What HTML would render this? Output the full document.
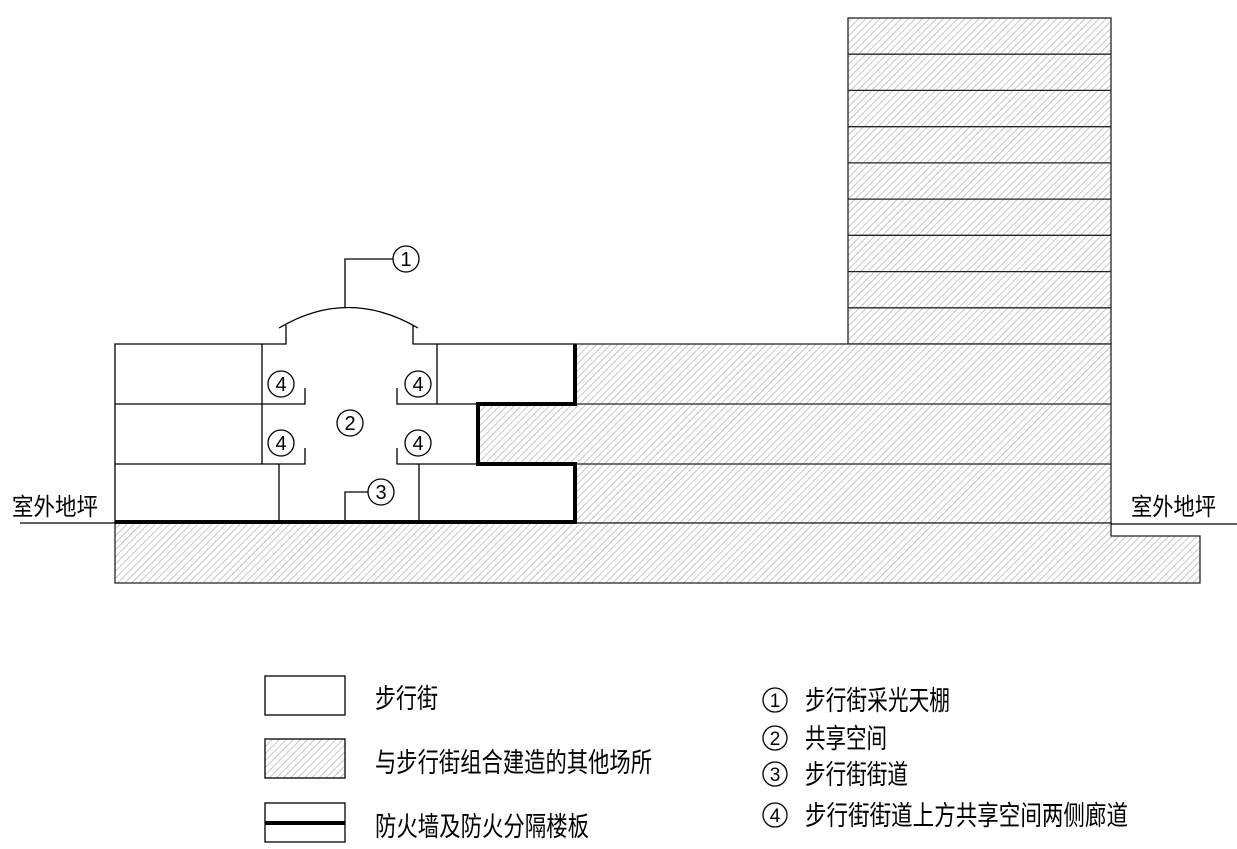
<!DOCTYPE html>
<html><head><meta charset="utf-8"><style>
html,body{margin:0;padding:0;background:#fff}
svg{display:block}
text{font-family:"Liberation Sans","Noto Sans CJK SC","WenQuanYi Zen Hei",sans-serif;fill:#000}
</style></head><body>
<svg width="1237" height="849" viewBox="0 0 1237 849" xmlns="http://www.w3.org/2000/svg">
<defs>
<pattern id="h" patternUnits="userSpaceOnUse" width="5" height="5" patternTransform="rotate(45)">
<rect width="5" height="5" fill="#fff"/><line x1="0" y1="0" x2="0" y2="5" stroke="#b8b8b8" stroke-width="1.6"/>
</pattern>
</defs>
<g stroke="#222" stroke-width="1.3" fill="url(#h)">
<rect x="848" y="18" width="263" height="326"/>
<line x1="848" y1="54.2" x2="1111" y2="54.2"/><line x1="848" y1="90.4" x2="1111" y2="90.4"/>
<line x1="848" y1="126.7" x2="1111" y2="126.7"/><line x1="848" y1="162.9" x2="1111" y2="162.9"/>
<line x1="848" y1="199.1" x2="1111" y2="199.1"/><line x1="848" y1="235.3" x2="1111" y2="235.3"/>
<line x1="848" y1="271.6" x2="1111" y2="271.6"/><line x1="848" y1="307.8" x2="1111" y2="307.8"/>
<polygon points="575,344 1111,344 1111,523 575,523 575,464 478,464 478,404 575,404"/>
<line x1="575" y1="404" x2="1111" y2="404"/><line x1="575" y1="464" x2="1111" y2="464"/>
<polygon points="115,523 1111,523 1111,536 1200,536 1200,583 115,583"/>
</g>
<g stroke="#000" stroke-width="1.3" fill="none">
<polyline points="575,344 413,344 413,325"/>
<polyline points="286,325 286,344 115,344 115,523"/>
<path d="M279,328 Q348,287 418,328"/>
<polyline points="345,307 345,259 393,259"/>
<circle cx="406" cy="259" r="13"/>
<line x1="262" y1="344" x2="262" y2="464"/>
<line x1="437" y1="344" x2="437" y2="404"/>
<polyline points="115,404 305,404 305,388"/>
<polyline points="478,404 397,404 397,388"/>
<polyline points="115,464 305,464 305,448"/>
<polyline points="478,464 397,464 397,448"/>
<line x1="279" y1="464" x2="279" y2="523"/>
<line x1="419" y1="464" x2="419" y2="523"/>
<polyline points="345,523 345,492 368,492"/>
<circle cx="381" cy="492" r="13"/>
<circle cx="281" cy="384" r="13"/><circle cx="418" cy="384" r="13"/>
<circle cx="281" cy="443" r="13"/><circle cx="418" cy="443" r="13"/>
<circle cx="350" cy="423" r="13"/>
<line x1="20" y1="523" x2="115" y2="523"/>
<line x1="1111" y1="524" x2="1237" y2="524"/>
</g>
<polyline points="575,344 575,404 478,404 478,464 575,464 575,522 115,522" fill="none" stroke="#000" stroke-width="4"/>
<g font-size="20" text-anchor="middle">
<text x="406" y="266">1</text><text x="381" y="499">3</text><text x="350" y="430">2</text>
<text x="281" y="391">4</text><text x="418" y="391">4</text><text x="281" y="450">4</text><text x="418" y="450">4</text>
</g>
<g font-size="24" lengthAdjust="spacingAndGlyphs">
<text x="12" y="515" textLength="86" lengthAdjust="spacingAndGlyphs">室外地坪</text>
<text x="1131" y="515" textLength="85" lengthAdjust="spacingAndGlyphs">室外地坪</text>
</g>
<g stroke="#000" stroke-width="1.3">
<rect x="265" y="676" width="80" height="39" fill="#fff"/>
<rect x="265" y="739" width="80" height="39" fill="url(#h)"/>
<rect x="265" y="803" width="80" height="39" fill="#fff"/>
</g>
<line x1="265" y1="823" x2="345" y2="823" stroke="#000" stroke-width="4"/>
<g font-size="27">
<text x="375" y="708" textLength="63" lengthAdjust="spacingAndGlyphs">步行街</text>
<text x="375" y="772" textLength="277" lengthAdjust="spacingAndGlyphs">与步行街组合建造的其他场所</text>
<text x="375" y="836" textLength="214" lengthAdjust="spacingAndGlyphs">防火墙及防火分隔楼板</text>
<text x="805" y="710" textLength="145" lengthAdjust="spacingAndGlyphs">步行街采光天棚</text>
<text x="805" y="748" textLength="82" lengthAdjust="spacingAndGlyphs">共享空间</text>
<text x="805" y="784" textLength="103" lengthAdjust="spacingAndGlyphs">步行街街道</text>
<text x="805" y="825" textLength="323" lengthAdjust="spacingAndGlyphs">步行街街道上方共享空间两侧廊道</text>
</g>
<g fill="none" stroke="#000" stroke-width="1.3">
<circle cx="775" cy="700" r="12"/><circle cx="775" cy="738" r="12"/>
<circle cx="775" cy="774" r="12"/><circle cx="775" cy="815" r="12"/>
</g>
<g font-size="19" text-anchor="middle">
<text x="775" y="707">1</text><text x="775" y="745">2</text><text x="775" y="781">3</text><text x="775" y="822">4</text>
</g>
</svg>
</body></html>
